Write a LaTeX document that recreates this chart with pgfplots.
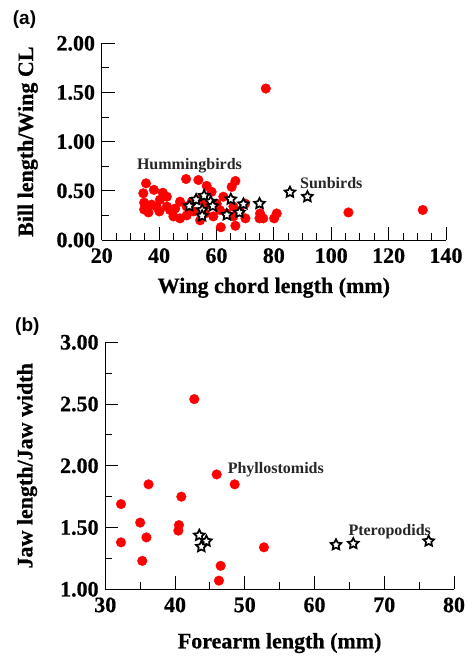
\documentclass[border=0pt]{standalone}
\usepackage{pgfplots}
\pgfplotsset{compat=1.18}
\usepackage{fontspec}
\setmainfont{Liberation Serif}
\newfontfamily\heavyfont{Liberation Serif Bold}[FakeBold=0.6]
\newfontfamily\arialfont{Liberation Sans}
\newcommand\tl[1]{\hbox{\heavyfont\fontsize{22}{24}\selectfont #1}}
\pgfdeclareplotmark{ostar}{%
 \pgfpathmoveto{\pgfpointpolar{90}{\pgfplotmarksize}}%
 \pgfpathlineto{\pgfpointpolar{126}{0.5\pgfplotmarksize}}%
 \pgfpathlineto{\pgfpointpolar{162}{\pgfplotmarksize}}%
 \pgfpathlineto{\pgfpointpolar{198}{0.5\pgfplotmarksize}}%
 \pgfpathlineto{\pgfpointpolar{234}{\pgfplotmarksize}}%
 \pgfpathlineto{\pgfpointpolar{270}{0.5\pgfplotmarksize}}%
 \pgfpathlineto{\pgfpointpolar{306}{\pgfplotmarksize}}%
 \pgfpathlineto{\pgfpointpolar{342}{0.5\pgfplotmarksize}}%
 \pgfpathlineto{\pgfpointpolar{18}{\pgfplotmarksize}}%
 \pgfpathlineto{\pgfpointpolar{54}{0.5\pgfplotmarksize}}%
 \pgfpathclose
 \pgfusepathqfillstroke}
\pgfplotsset{
  myaxis/.style={
    scale only axis,
    anchor=south west,
    axis lines*=left,
    axis line style={black, line width=0.9pt},
    every tick/.style={black, line width=0.9pt},
    tick align=inside,
    major tick length=13pt,
    minor tick length=7pt,
    /pgf/number format/assume math mode=true,
    tick label style={font=\heavyfont\fontsize{22}{24}\selectfont, inner sep=1pt},
    xticklabel style={yshift=-7pt},
    yticklabel style={xshift=-5.5pt},
    label style={font=\heavyfont\fontsize{22}{24}\selectfont},
    clip=false,
  },
  redpts/.style={only marks, mark=*, mark size=4.8pt, color=red, mark options={fill=red, draw=red}},
  starpts/.style={only marks, mark=ostar, mark size=5.6pt, mark options={fill=white, draw=black, line width=1.7pt}},
}
\begin{document}
\begin{tikzpicture}
\path[use as bounding box] (0,0) rectangle (465pt,657pt);
% ---------- panel (a)
\begin{axis}[myaxis,
  at={(101.7pt,417pt)},
  width=344.3pt, height=196.7pt,
  xmin=20, xmax=140, ymin=0, ymax=2,
  xtick={20,40,60,80,100,120,140}, minor x tick num=3,
  xticklabels={\tl{20},\tl{40},\tl{60},\tl{80},\tl{100},\tl{120},\tl{140}},
  ytick={0,0.5,1,1.5,2}, minor y tick num=1,
  yticklabels={\tl{0.00},\tl{0.50},\tl{1.00},\tl{1.50},\tl{2.00}},
  xlabel={Wing chord length (mm)},
  ylabel={Bill length/Wing CL},
  xlabel style={at={(axis description cs:0.5,0)}, anchor=base, yshift=-53pt},
  ylabel style={at={(axis description cs:0,0.5)}, anchor=base, yshift=68.7pt},
]
\addplot[redpts] coordinates {
(77.2,1.54) (106.0,0.28) (131.9,0.305) (35.45,0.576) (34.5,0.475) (34.8,0.38)
(34.8,0.31) (36.3,0.28) (38.2,0.51) (41.3,0.48) (42.7,0.44) (40.3,0.41)
(40.1,0.29) (49.4,0.62) (53.7,0.61) (56.6,0.55) (58.3,0.49) (66.6,0.60)
(65.3,0.54) (62.4,0.44) (61.5,0.13) (66.6,0.145) (45.0,0.24) (47.3,0.22)
(47.3,0.39) (43.8,0.305) (52.0,0.29) (54.3,0.20) (58.9,0.24) (61.2,0.305)
(70.1,0.22) (70.0,0.37) (75.2,0.27) (75.0,0.22) (76.3,0.22) (80.1,0.22)
(81.0,0.27) (65.9,0.34) (68.2,0.29) (49.6,0.34) (51.4,0.39) (54.3,0.41)
(56.6,0.36) (60.1,0.37) (63.6,0.27) (65.9,0.24) (56.0,0.27) (49.6,0.25)
(39.1,0.34) (37.4,0.36) (42.7,0.34) (45.6,0.32)
};
\addplot[starpts] coordinates {
(50.55,0.345) (52.9,0.41) (55.7,0.45) (55.0,0.305) (55.0,0.245) (58.0,0.39)
(58.7,0.345) (63.6,0.255) (65.0,0.415) (69.4,0.365) (68.0,0.28) (75.0,0.37)
(85.6,0.485) (91.7,0.44)
};
\node[anchor=base, font=\fontsize{16}{16}\selectfont\bfseries, text=black!85] at (axis cs:50.6,0.712) {Hummingbirds};
\node[anchor=base west, inner sep=0pt, font=\fontsize{16}{16}\selectfont\bfseries, text=black!85] at (axis cs:89.1,0.522) {Sunbirds};
\end{axis}
% ---------- panel (b)
\begin{axis}[myaxis,
  at={(105.3pt,67.7pt)},
  width=348.7pt, height=247pt,
  xmin=30, xmax=80, ymin=1, ymax=3,
  xtick={30,40,50,60,70,80}, minor x tick num=1,
  xticklabels={\tl{30},\tl{40},\tl{50},\tl{60},\tl{70},\tl{80}},
  ytick={1,1.5,2,2.5,3}, minor y tick num=1,
  yticklabels={\tl{1.00},\tl{1.50},\tl{2.00},\tl{2.50},\tl{3.00}},
  xlabel={Forearm length (mm)},
  ylabel={Jaw length/Jaw width},
  xlabel style={at={(axis description cs:0.5,0)}, anchor=base, yshift=-59pt},
  ylabel style={at={(axis description cs:0,0.5)}, anchor=base, yshift=73pt},
]
\addplot[redpts] coordinates {
(42.76,2.54) (45.97,1.93) (48.55,1.85) (36.2,1.85) (40.9,1.75) (32.25,1.69)
(35.0,1.54) (40.56,1.52) (40.47,1.475) (32.25,1.38) (35.9,1.42) (35.3,1.23)
(52.75,1.34) (46.54,1.19) (46.3,1.07)
};
\addplot[starpts] coordinates {
(43.48,1.437) (44.5,1.39) (43.77,1.345) (63.08,1.36) (65.56,1.37) (76.37,1.39)
};
\node[anchor=base west, inner sep=0pt, font=\fontsize{16}{16}\selectfont\bfseries, text=black!85] at (axis cs:47.54,1.934) {Phyllostomids};
\node[anchor=base west, inner sep=0pt, font=\fontsize{16}{16}\selectfont\bfseries, text=black!85] at (axis cs:64.85,1.435) {Pteropodids};
\end{axis}
\node[anchor=base west, inner sep=0pt, font=\arialfont\bfseries\fontsize{19}{19}\selectfont] at (12.7pt,632pt) {(a)};
\node[anchor=base west, inner sep=0pt, font=\arialfont\bfseries\fontsize{19}{19}\selectfont] at (15pt,325.3pt) {(b)};
\end{tikzpicture}
\end{document}
